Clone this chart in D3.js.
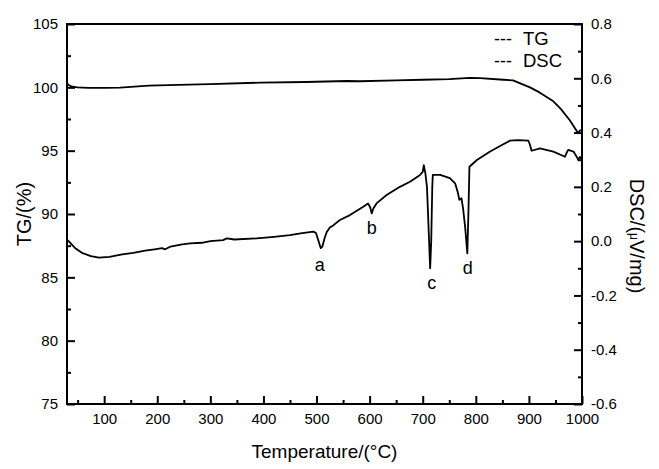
<!DOCTYPE html>
<html><head><meta charset="utf-8">
<script src="https://cdn.jsdelivr.net/npm/d3@7"></script>
<style>
body{margin:0;background:#fff}
text{font-family:"Liberation Sans",Arial,sans-serif;fill:#000}
</style>
</head><body>
<svg id="chart" width="659" height="469"></svg>
<script>
// ---- data ----
const tgTemps  = [30,32,40,50,70,102,130,184,240,299,394,480,557,582,650,700,750,789,808,852,870,902,920,946,960,977,991,993,996,1000];
const tgValues = [100.35,100.2,100.05,100.0,99.95,99.95,99.97,100.13,100.2,100.25,100.37,100.42,100.5,100.48,100.55,100.6,100.65,100.75,100.72,100.6,100.55,100.0,99.6,98.9,98.3,97.4,96.5,96.4,96.6,96.6];

const dscTemps  = [30,33,45,58,75,90,110,134,155,177,195,209,215,225,247,262,284,300,324,331,345,387,420,450,470,494,499,503,508,511,515,519,525,532,544,563,588,597,601,604,607,613,632,657,676,695,700,702,705,708,711,714,716,718,719,733,751,761,766,769,773,776,780,784,786,788,802,827,850,864,880,899,902,905,921,946,968,971,974,984,990,993,996,1000];
const dscValues = [0.005,0.0,-0.025,-0.043,-0.055,-0.061,-0.058,-0.049,-0.043,-0.035,-0.030,-0.026,-0.030,-0.020,-0.012,-0.008,-0.006,0.000,0.004,0.010,0.006,0.010,0.016,0.022,0.029,0.035,0.030,0.005,-0.026,-0.020,0.010,0.033,0.050,0.059,0.078,0.096,0.127,0.139,0.125,0.102,0.120,0.139,0.170,0.200,0.219,0.244,0.255,0.280,0.250,0.200,0.050,-0.100,0.000,0.200,0.244,0.244,0.232,0.213,0.180,0.152,0.158,0.121,0.050,-0.045,0.100,0.274,0.299,0.330,0.355,0.370,0.372,0.370,0.355,0.333,0.342,0.330,0.311,0.325,0.336,0.330,0.311,0.299,0.310,0.305];

const xMajorTicks = [100,200,300,400,500,600,700,800,900,1000];
const xMinorTicks = [50,150,250,350,450,550,650,750,850,950];
const tgMajorTicks = [75,80,85,90,95,100,105];
const tgMinorTicks = [77.5,82.5,87.5,92.5,97.5,102.5];
const dscMajorTicks = [-0.6,-0.4,-0.2,0.0,0.2,0.4,0.6,0.8];
const dscMinorTicks = [-0.5,-0.3,-0.1,0.1,0.3,0.5,0.7];

const peakNames = ["a","b","c","d"];
const peakTemps = [506,604,717,785];
const peakDsc   = [-0.109,0.026,-0.175,-0.121];

const legendNames = ["TG","DSC"];

// ---- layout ----
const L = 67, R = 582, T = 24, B = 404;
const svg = d3.select("#chart");

const x = d3.scaleLinear().domain([30,1000]).range([L,R]);
const yTG = d3.scaleLinear().domain([75,105]).range([B,T]);
const yDSC = d3.scaleLinear().domain([-0.6,0.8]).range([B,T]);

function styleAxis(g){
  g.select(".domain").remove();
  g.selectAll("line").attr("stroke","#000").attr("stroke-width",2);
  g.selectAll("text").style("font-size","15px").attr("fill","#000");
}

// bottom axis
svg.append("g").attr("transform",`translate(0,${B})`)
  .call(d3.axisBottom(x).tickValues(xMajorTicks).tickSize(-8).tickPadding(9).tickFormat(d3.format("d")))
  .call(styleAxis);
svg.append("g").attr("transform",`translate(0,${B})`)
  .call(d3.axisBottom(x).tickValues(xMinorTicks).tickSize(-4).tickFormat(""))
  .call(styleAxis);

// left axis
svg.append("g").attr("transform",`translate(${L},0)`)
  .call(d3.axisLeft(yTG).tickValues(tgMajorTicks).tickSize(-8).tickPadding(9).tickFormat(d3.format("d")))
  .call(styleAxis);
svg.append("g").attr("transform",`translate(${L},0)`)
  .call(d3.axisLeft(yTG).tickValues(tgMinorTicks).tickSize(-4).tickFormat(""))
  .call(styleAxis);

// right axis
svg.append("g").attr("transform",`translate(${R},0)`)
  .call(d3.axisRight(yDSC).tickValues(dscMajorTicks).tickSize(-8).tickPadding(9).tickFormat(d => d.toFixed(1)))
  .call(styleAxis);
svg.append("g").attr("transform",`translate(${R},0)`)
  .call(d3.axisRight(yDSC).tickValues(dscMinorTicks).tickSize(-4).tickFormat(""))
  .call(styleAxis);

// frame
svg.append("rect").attr("x",L).attr("y",T).attr("width",R-L).attr("height",B-T)
  .attr("fill","none").attr("stroke","#000").attr("stroke-width",2);

// curves
const tgLine = d3.line().x(d => x(d[0])).y(d => yTG(d[1]));
const dscLine = d3.line().x(d => x(d[0])).y(d => yDSC(d[1]));
svg.append("path").datum(tgTemps.map((t,i)=>[t,tgValues[i]]))
  .attr("d",tgLine).attr("fill","none").attr("stroke","#000").attr("stroke-width",1.8).attr("stroke-linejoin","round");
svg.append("path").datum(dscTemps.map((t,i)=>[t,dscValues[i]]))
  .attr("d",dscLine).attr("fill","none").attr("stroke","#000").attr("stroke-width",1.8).attr("stroke-linejoin","round");

// peak labels
svg.selectAll(".peak").data(peakNames).enter().append("text")
  .attr("x",(d,i)=>x(peakTemps[i])).attr("y",(d,i)=>yDSC(peakDsc[i]))
  .attr("text-anchor","middle").style("font-size","18px").text(d=>d);

// legend
const lg = svg.append("g");
legendNames.forEach((n,i)=>{
  lg.append("text").attr("x",494).attr("y",45+i*22).style("font-size","18px").text("---");
  lg.append("text").attr("x",523).attr("y",45+i*22).style("font-size","18.5px").text(n);
});

// axis titles
svg.append("text").attr("x",(L+R)/2).attr("y",458).attr("text-anchor","middle")
  .style("font-size","19px").text("Temperature/(°C)");
svg.append("text").attr("transform","translate(31,214) rotate(-90)").attr("text-anchor","middle")
  .style("font-size","20px").text("TG/(%)");
const rt = svg.append("text").attr("transform","translate(630,236) rotate(90)").attr("text-anchor","middle")
  .style("font-size","20px");
rt.append("tspan").text("DSC/(");
rt.append("tspan").style("font-size","12px").text("μ");
rt.append("tspan").text("V/mg)");
</script>
</body></html>
